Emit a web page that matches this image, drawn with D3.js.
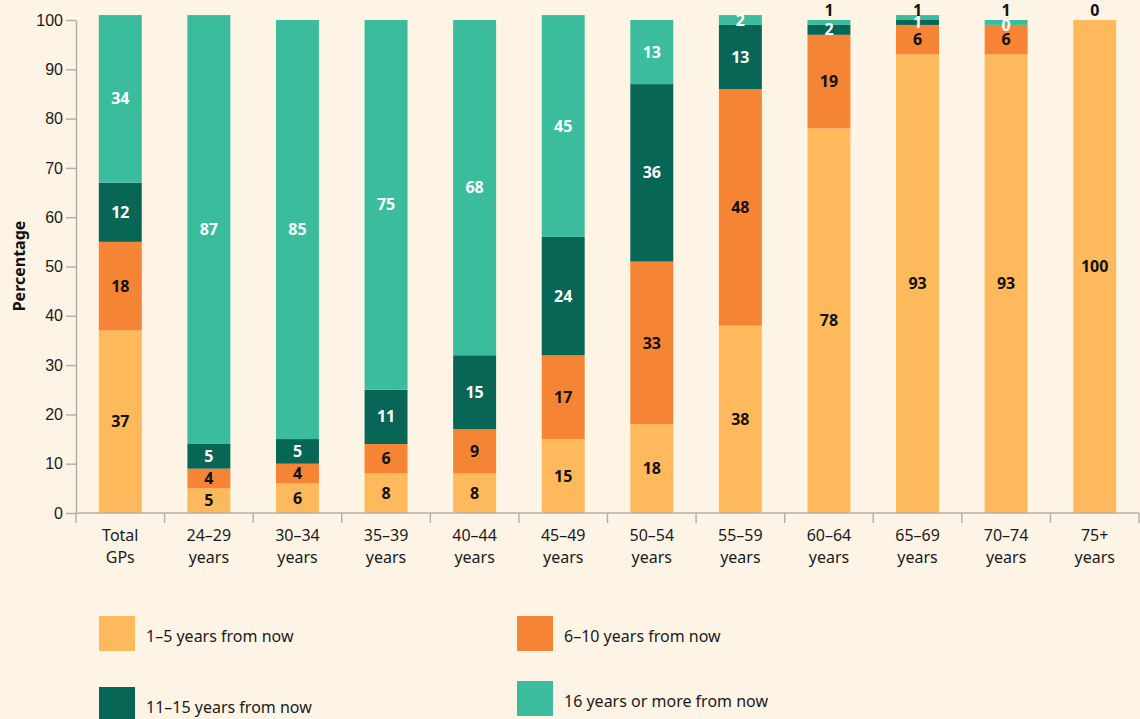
<!DOCTYPE html>
<html>
<head>
<meta charset="utf-8">
<script src="https://cdn.jsdelivr.net/npm/d3@7"></script>
<style>
  html, body { margin: 0; padding: 0; background: #fef4e6; }
  svg { display: block; font-family: "Noto Sans", sans-serif; }
  .axis path, .axis line { stroke: #b3b0ac; stroke-width: 1.5; }
  .axis text { font-size: 16px; fill: #1a1a1a; }
</style>
</head>
<body>
<div id="chart"></div>
<script>
const categories = ['Total GPs', '24–29 years', '30–34 years', '35–39 years', '40–44 years',
  '45–49 years', '50–54 years', '55–59 years', '60–64 years', '65–69 years', '70–74 years', '75+ years'];
const seriesNames = ['1–5 years from now', '6–10 years from now', '11–15 years from now', '16 years or more from now'];
const years1to5   = [37, 5, 6, 8, 8, 15, 18, 38, 78, 93, 93, 100];
const years6to10  = [18, 4, 4, 6, 9, 17, 33, 48, 19, 6, 6, 0];
const years11to15 = [12, 5, 5, 11, 15, 24, 36, 13, 2, 1, 0, 0];
const years16plus = [34, 87, 85, 75, 68, 45, 13, 2, 1, 1, 1, 0];
const yTicks = [0, 10, 20, 30, 40, 50, 60, 70, 80, 90, 100];

const colors = ['#fdb95b', '#f58434', '#076655', '#3bbd9d'];
const labelColors = ['#111', '#111', '#fff', '#fff'];

const W = 1140, H = 719;
const margin = {top: 20, right: 1, bottom: 206, left: 76};
const innerW = W - margin.left - margin.right;
const innerH = H - margin.top - margin.bottom;

const svg = d3.select('#chart').append('svg')
  .attr('width', W).attr('height', H);
const g = svg.append('g')
  .attr('transform', 'translate(' + margin.left + ',' + margin.top + ')');

const table = categories.map((c, i) => ({
  cat: c,
  s0: years1to5[i], s1: years6to10[i], s2: years11to15[i], s3: years16plus[i]
}));
const keys = ['s0', 's1', 's2', 's3'];
const stacked = d3.stack().keys(keys)(table);

const x = d3.scaleBand().domain(categories).range([0, innerW])
  .paddingInner(0.515).paddingOuter(0.2575);
const y = d3.scaleLinear().domain([0, 100]).range([innerH, 0]);

// bars
g.selectAll('.layer').data(stacked).join('g')
  .attr('class', 'layer')
  .attr('fill', (d, i) => colors[i])
  .selectAll('rect').data(d => d).join('rect')
  .attr('x', d => x(d.data.cat))
  .attr('width', x.bandwidth())
  .attr('y', d => y(d[1]))
  .attr('height', d => y(d[0]) - y(d[1]));

// y axis
g.append('g').attr('class', 'axis y-axis')
  .call(d3.axisLeft(y).tickValues(yTicks).tickSize(10).tickPadding(3).tickSizeOuter(0));

// x axis: line + boundary ticks + two-line labels
const xAxis = g.append('g').attr('class', 'axis x-axis')
  .attr('transform', 'translate(0,' + innerH + ')');
xAxis.append('path').attr('d', 'M0,0H' + innerW);
xAxis.selectAll('line').data(d3.range(categories.length + 1)).join('line')
  .attr('x1', i => i * x.step()).attr('x2', i => i * x.step())
  .attr('y1', 0).attr('y2', 10);
const xl = xAxis.selectAll('text').data(categories).join('text')
  .attr('x', d => x(d) + x.bandwidth() / 2)
  .attr('y', 28)
  .attr('text-anchor', 'middle');
xl.selectAll('tspan').data(d => d.split(' ')).join('tspan')
  .attr('x', function() { return this.parentNode.getAttribute('x'); })
  .attr('dy', (d, i) => i === 0 ? 0 : 22)
  .text(d => d);

// y title
svg.append('text')
  .attr('transform', 'translate(25,266) rotate(-90)')
  .attr('text-anchor', 'middle')
  .attr('font-size', 16).attr('font-weight', 'bold').attr('fill', '#111')
  .text('Percentage');

// value labels
const labels = [];
stacked.forEach((layer, li) => {
  layer.forEach(d => {
    const v = d[1] - d[0];
    if (v === 0 && d[0] >= 100 && li < 3) return;
    const above = li === 3 && v <= 1;
    labels.push({
      v: v, li: li, cat: d.data.cat,
      mid: (d[0] + d[1]) / 2,
      top: Math.min(d[1], 100), above: above
    });
  });
});
g.selectAll('.val').data(labels).join('text')
  .attr('class', 'val')
  .attr('x', d => x(d.cat) + x.bandwidth() / 2)
  .attr('y', d => d.above ? y(d.top) - 10 : y(d.mid))
  .attr('dy', '0.35em')
  .attr('text-anchor', 'middle')
  .attr('font-size', 16).attr('font-weight', 'bold')
  .attr('fill', d => d.above ? '#111' : labelColors[d.li])
  .text(d => d.v);

// legend
const legendPos = [[99, 616], [517, 616], [99, 687], [517, 681]];
const lg = svg.selectAll('.legend').data(seriesNames).join('g')
  .attr('class', 'legend')
  .attr('transform', (d, i) => 'translate(' + legendPos[i][0] + ',' + legendPos[i][1] + ')');
lg.append('rect').attr('width', 36).attr('height', 35)
  .attr('fill', (d, i) => colors[i]);
lg.append('text').attr('x', 47).attr('y', 20).attr('dy', '0.35em')
  .attr('font-size', 16).attr('fill', '#1a1a1a')
  .text(d => d);
</script>
</body>
</html>
